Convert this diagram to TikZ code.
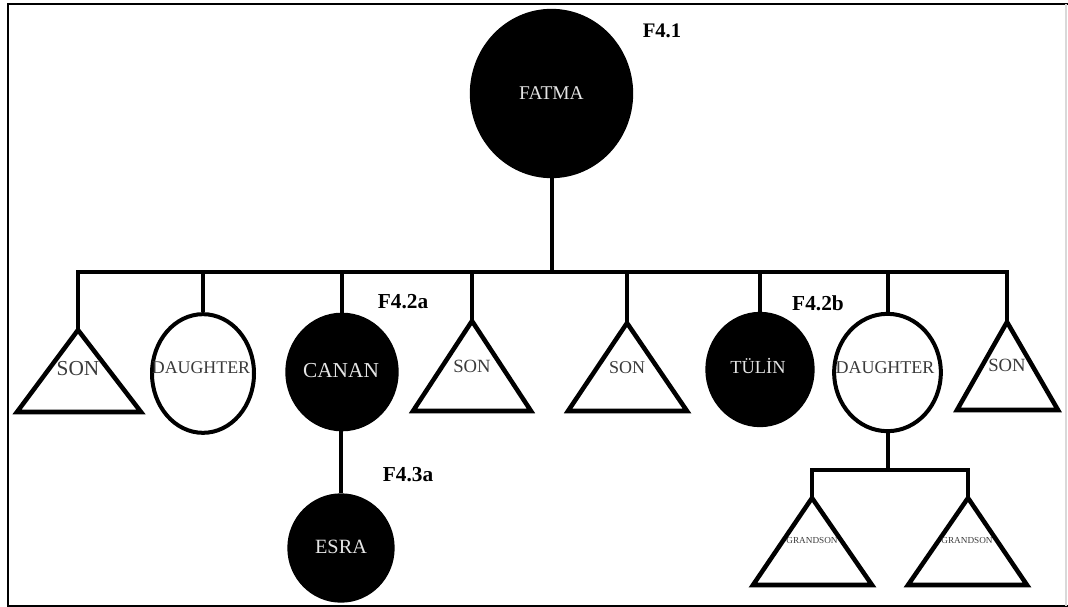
\documentclass[tikz,border=0pt]{standalone}
\usepackage{fontspec}
\setmainfont{Liberation Serif}
\usetikzlibrary{shapes.geometric}
\definecolor{txtdark}{HTML}{3A3A3A}
\definecolor{txtlight}{HTML}{E4E4E4}
\tikzset{
  conn/.style={line width=3pt, line join=miter},
  tri/.style={line width=3.4pt, line join=miter},
  blackp/.style={ellipse, fill=black, draw=black, line width=1pt, inner sep=0pt},
  whitep/.style={ellipse, fill=white, draw=black, line width=3pt, inner sep=0pt},
  lbldark/.style={anchor=base, inner sep=0pt, text=txtdark},
  lbllight/.style={anchor=base, inner sep=0pt, text=txtlight},
  gen/.style={anchor=base, inner sep=0pt, font=\bfseries\fontsize{16}{18}\selectfont},
  frameline/.style={line width=1.6pt, draw=black}
}
\begin{document}
\begin{tikzpicture}[x=0.75pt,y=-0.75pt]
\useasboundingbox (0,0) rectangle (1068,607);
% frame
\coordinate (fa) at (8,4);
\coordinate (fb) at (1068,4);
\coordinate (fc) at (8,606);
\coordinate (fd) at (1068,606);
\coordinate (fe) at (1066,4);
\coordinate (ff) at (1066,606);
\draw[frameline] (fb) -- (fa) -- (fc) -- (fd);
\draw[line width=0.8pt, draw=black!15] (fe) -- (ff);

% bar coordinates
\coordinate (barL) at (78,272);
\coordinate (subL) at (812,470);

% people: circles (sizes in pt = 0.75 * px)
\node[blackp, minimum width=121.5pt, minimum height=126pt] (fatma) at (551.5,93.5) {};
\node[whitep, minimum width=76.5pt, minimum height=89pt] (d1) at (203,373.5) {};
\node[blackp, minimum width=84pt, minimum height=88pt] (canan) at (342,372) {};
\node[blackp, minimum width=81pt, minimum height=85.5pt] (tulin) at (760,369.5) {};
\node[whitep, minimum width=80pt, minimum height=88pt] (d2) at (887.5,372.5) {};
\node[blackp, minimum width=79.5pt, minimum height=81pt] (esra) at (341,548) {};

% triangles
\coordinate (s1) at (78,330);
\coordinate (s4) at (472,321);
\coordinate (s5) at (627,323);
\coordinate (s6) at (1007,322);
\coordinate (g1) at (812,498);
\coordinate (g2) at (968,498);
\draw[tri] (s1) -- (17,412) -- (141,412) -- cycle;
\draw[tri] (s4) -- (413,411) -- (531,411) -- cycle;
\draw[tri] (s5) -- (568,411) -- (687,411) -- cycle;
\draw[tri] (s6) -- (957,410) -- (1058,410) -- cycle;
\draw[tri] (g1) -- (753,585) -- (872,585) -- cycle;
\draw[tri] (g2) -- (908,585) -- (1027,585) -- cycle;

% connectors
\draw[conn] (s1) -- (s1 |- barL) -- (s6 |- barL) -- (s6);
\draw[conn] (fatma.south) -- (fatma.south |- barL);
\draw[conn] (d1.north) -- (d1.north |- barL);
\draw[conn] (canan.north) -- (canan.north |- barL);
\draw[conn] (s4) -- (s4 |- barL);
\draw[conn] (s5) -- (s5 |- barL);
\draw[conn] (tulin.north) -- (tulin.north |- barL);
\draw[conn] (d2.north) -- (d2.north |- barL);
\draw[conn] (esra.north) -- (esra.north |- canan.south);
\draw[conn] (d2.south) -- (d2.south |- subL);
\draw[conn] (g1) -- (g1 |- subL) -- (g2 |- subL) -- (g2);

% texts
\node[lbllight, font=\fontsize{14.6}{16}\selectfont] (tfatma) at (551.5,99) {FATMA};
\node[lbldark, font=\fontsize{16}{18}\selectfont] (ts1) at (78,375) {SON};
\node[lbldark, font=\fontsize{13.4}{15}\selectfont] (td1) at (201,373) {DAUGHTER};
\node[lbllight, font=\fontsize{16}{18}\selectfont] (tcanan) at (341,377) {CANAN};
\node[lbldark, font=\fontsize{14}{16}\selectfont] (ts4) at (472,372) {SON};
\node[lbldark, font=\fontsize{13.5}{15}\selectfont] (ts5) at (627,373) {SON};
\node[lbllight, font=\fontsize{13.8}{15}\selectfont] (ttulin) at (758,373) {TÜLİN};
\node[lbldark, font=\fontsize{13.5}{15}\selectfont] (td2) at (885,373) {DAUGHTER};
\node[lbldark, font=\fontsize{14}{16}\selectfont] (ts6) at (1007,371) {SON};
\node[lbllight, font=\fontsize{15.2}{17}\selectfont] (tesra) at (341,553) {ESRA};
\node[lbldark, font=\fontsize{6.9}{8}\selectfont] (tg1) at (812,543) {GRANDSON};
\node[lbldark, font=\fontsize{6.9}{8}\selectfont] (tg2) at (967,543) {GRANDSON};

% generation labels
\node[gen, font=\bfseries\fontsize{15.5}{17}\selectfont] (f41) at (662,37) {F4.1};
\node[gen] (f42a) at (403,308) {F4.2a};
\node[gen] (f42b) at (818,310) {F4.2b};
\node[gen] (f43a) at (408,481) {F4.3a};
\end{tikzpicture}
\end{document}
